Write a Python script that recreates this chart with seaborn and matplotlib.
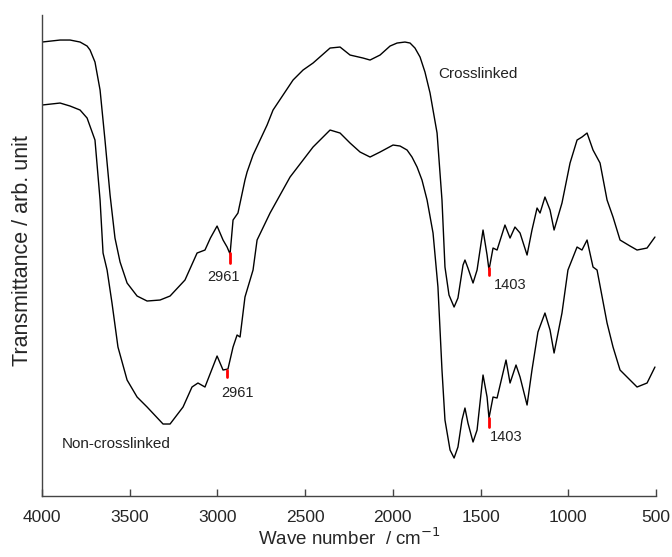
import matplotlib
matplotlib.use("Agg")
import matplotlib.pyplot as plt
import seaborn as sns
import pandas as pd

# Crosslinked spectrum (upper curve): wavenumber (cm-1) and transmittance (arb. units)
cross_wn = [4000, 3897, 3840, 3783, 3743, 3726, 3698, 3669, 3641, 3612, 3584, 3555,
            3515, 3458, 3401, 3327, 3270, 3185, 3116, 3071, 3040, 3002, 2968, 2945,
            2928, 2911, 2883, 2843, 2831, 2797, 2757, 2717, 2683, 2626, 2569, 2512,
            2455, 2358, 2301, 2244, 2170, 2130, 2073, 2016, 1976, 1931, 1902, 1874,
            1845, 1817, 1788, 1748, 1720, 1703, 1680, 1651,
            1629, 1600, 1589, 1572, 1543, 1520, 1486, 1463, 1452, 1429, 1406, 1361,
            1332, 1304, 1275, 1235, 1207, 1178, 1161, 1133, 1104, 1081, 1036, 990,
            950, 922, 893, 859, 819, 779, 745, 705, 648, 608, 551, 506]
cross_t = [454, 456, 456, 454, 450, 446, 434, 406, 356, 301, 258, 234,
           213, 200, 195, 196, 200, 216, 243, 246, 258, 270, 256, 249,
           242, 276, 283, 316, 324, 341, 356, 371, 386, 401, 416, 426,
           433, 448, 449, 441, 438, 436, 441, 450, 453, 454, 453, 448,
           439, 424, 403, 363, 296, 229, 201, 189,
           198, 231, 236, 228, 213, 226, 266, 241, 226, 248, 246, 271,
           258, 269, 263, 241, 266, 288, 283, 299, 286, 266, 293, 333,
           356, 359, 363, 346, 333, 296, 279, 256, 250, 246, 248, 259]

# Non-crosslinked spectrum (lower curve)
non_wn = [4000, 3897, 3840, 3783, 3743, 3698, 3669, 3652, 3629, 3601, 3567, 3515,
          3458, 3401, 3310, 3270, 3196, 3145, 3111, 3071, 3002, 2968, 2940, 2911,
          2888, 2871, 2843, 2797, 2774, 2700, 2586, 2455, 2358, 2301, 2244, 2187,
          2130, 2073, 1999, 1959, 1919, 1891, 1862, 1834, 1805, 1771, 1743, 1720,
          1703, 1674, 1651, 1629, 1606,
          1589, 1572, 1543, 1520, 1486, 1463, 1452, 1429, 1406, 1355, 1332, 1298,
          1275, 1235, 1207, 1173, 1133, 1104, 1081, 1036, 1002, 950, 922, 893,
          859, 836, 779, 745, 705, 648, 608, 551, 506]
non_t = [391, 393, 390, 386, 378, 356, 296, 243, 226, 193, 149, 116,
         99, 89, 72, 72, 89, 109, 113, 109, 140, 126, 127, 149,
         161, 159, 199, 226, 256, 283, 319, 349, 366, 363, 353, 344,
         339, 344, 351, 350, 346, 339, 329, 316, 296, 263, 209, 126,
         76, 46, 38, 49, 76,
         88, 73, 54, 66, 121, 99, 78, 99, 98, 136, 113, 131,
         119, 91, 126, 164, 183, 166, 143, 183, 226, 249, 246, 256,
         229, 226, 173, 149, 126, 116, 109, 113, 129]

x_ticks = [4000, 3500, 3000, 2500, 2000, 1500, 1000, 500]

peak_labels = ["2961", "2961", "1403", "1403"]

sns.set_style("ticks")
plt.rcParams["font.family"] = ["Liberation Sans", "DejaVu Sans"]

fig = plt.figure(figsize=(6.72, 5.57), dpi=100)
ax = fig.add_axes([0.0625, 0.1095, 0.9137, 0.8635])

df_c = pd.DataFrame({"wn": cross_wn, "T": cross_t})
df_n = pd.DataFrame({"wn": non_wn, "T": non_t})
sns.lineplot(data=df_c, x="wn", y="T", ax=ax, color="black", lw=1.0, sort=False)
sns.lineplot(data=df_n, x="wn", y="T", ax=ax, color="black", lw=1.0, sort=False)

ax.set_xlim(4000, 500)
ax.set_ylim(0, 481)
ax.set_xticks(x_ticks)
ax.set_xticklabels([str(t) for t in x_ticks], fontsize=12.5)
ax.set_yticks([])
ax.tick_params(axis="x", direction="in", length=5, width=1, color="#444444", pad=10)
for s in ["top", "right"]:
    ax.spines[s].set_visible(False)
for s in ["left", "bottom"]:
    ax.spines[s].set_color("#444444")
    ax.spines[s].set_linewidth(1.0)

ax.set_xlabel("Wave number  / cm$^{-1}$", fontsize=13.5, labelpad=2)
ax.set_ylabel("Transmittance / arb. unit", fontsize=15.5)
ax.yaxis.set_label_coords(-0.0145, 0.51)

# red marks and their labels
marks = [(2928, 233, 243), (2945, 119, 126), (1452, 221, 228), (1452, 69, 78)]
label_pos = [(2968, 219), (2883, 103), (1332, 211), (1355, 59)]
for (mx, y0, y1), (lx, ly), txt in zip(marks, label_pos, peak_labels):
    ax.plot([mx, mx], [y0, y1], color="red", lw=2)
    ax.text(lx, ly, txt, fontsize=10.5, ha="center", va="center", color="#222222")

ax.text(1743, 422, "Crosslinked", fontsize=11, ha="left", va="center", color="#222222")
ax.text(3886, 52, "Non-crosslinked", fontsize=11, ha="left", va="center", color="#222222")

fig.savefig("out.png", dpi=100)
